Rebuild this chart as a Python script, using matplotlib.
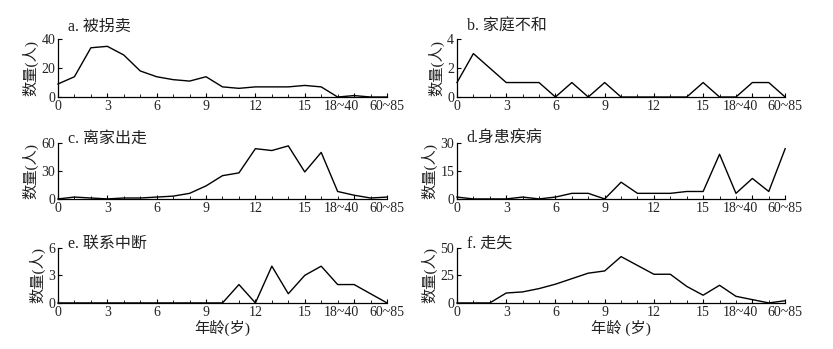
import numpy as np
import matplotlib
matplotlib.use('Agg')
import matplotlib.pyplot as plt
import matplotlib.transforms as mtransforms
from matplotlib.ticker import MultipleLocator

plt.rcParams['font.family'] = ['Liberation Serif', 'Noto Sans CJK SC']

# age groups: 0..17 single years, then 18~40, 40~60, 60~85
ages = list(range(21))
tick_pos = [0, 3, 6, 9, 12, 15, 18, 20]
tick_labels = ['0', '3', '6', '9', '12', '15', '18~40', '60~85']

kidnapped = [9, 14, 34, 35, 29, 18, 14, 12, 11, 14, 7, 6, 7, 7, 7, 8, 7, 0, 1, 0, 0]
family_conflict = [1, 3, 2, 1, 1, 1, 0, 1, 0, 1, 0, 0, 0, 0, 0, 1, 0, 0, 1, 1, 0]
run_away = [0, 2, 1, 0, 1, 1, 2, 3, 6, 14, 25, 28, 54, 52, 57, 29, 50, 8, 4, 1, 2]
illness = [1, 0, 0, 0, 1, 0, 1, 3, 3, 0, 9, 3, 3, 3, 4, 4, 24, 3, 11, 4, 27]
lost_contact = [0, 0, 0, 0, 0, 0, 0, 0, 0, 0, 0, 2, 0, 4, 1, 3, 4, 2, 2, 1, 0]
wandered = [0, 0, 0, 9, 10, 13, 17, 22, 27, 29, 42, 34, 26, 26, 15, 7, 16, 6, 3, 0, 2]

panels = [
    ('a. 被拐卖', kidnapped, 40, 20),
    ('b. 家庭不和', family_conflict, 4, 2),
    ('c. 离家出走', run_away, 60, 30),
    ('d.身患疾病', illness, 30, 15),
    ('e. 联系中断', lost_contact, 6, 3),
    ('f. 走失', wandered, 50, 25),
]

fig = plt.figure(figsize=(8.33, 3.49), dpi=100)

lefts = [0.0696, 0.5486]
widths = [0.395, 0.394]
bottoms = [0.722, 0.430, 0.132]
heights = [0.166, 0.160, 0.158]
title_y = [1.15, 1.0, 1.0]

for i, (title, vals, ymax, ystep) in enumerate(panels):
    row, col = i // 2, i % 2
    ax = fig.add_axes([lefts[col], bottoms[row], widths[col], heights[row]])
    ax.plot(ages, vals, color='black', lw=1.0, clip_on=False)
    ax.set_xlim(0, 20)
    ax.set_ylim(0, ymax)
    ax.set_xticks(tick_pos)
    ax.set_xticklabels(tick_labels)
    ax.xaxis.set_minor_locator(MultipleLocator(1))
    ax.set_yticks([0, ystep, ymax])
    ax.spines['top'].set_visible(False)
    ax.spines['right'].set_visible(False)
    for s in ['left', 'bottom']:
        ax.spines[s].set_linewidth(0.9)
    ax.tick_params(which='major', direction='in', length=3, width=0.8,
                   labelsize=10, pad=2, labelcolor='#222222')
    ax.tick_params(which='minor', direction='in', length=2, width=0.6)
    # the 18~40 label sits a little left of its tick in the original
    lab = ax.get_xticklabels()[6]
    lab.set_transform(lab.get_transform() +
                      mtransforms.ScaledTranslation(-9 / 72, 0, fig.dpi_scale_trans))
    ax.set_ylabel('数量(人)', fontsize=11, color='#222222', labelpad=2)
    ax.text(0.03, title_y[row], title, transform=ax.transAxes,
            fontsize=11.5, va='baseline', ha='left', color='#222222')
    if row == 2:
        ax.set_xlabel('年龄(岁)' if col == 0 else '年龄 (岁)', fontsize=11,
                      color='#222222', labelpad=1)

fig.savefig('out.png', dpi=100)
